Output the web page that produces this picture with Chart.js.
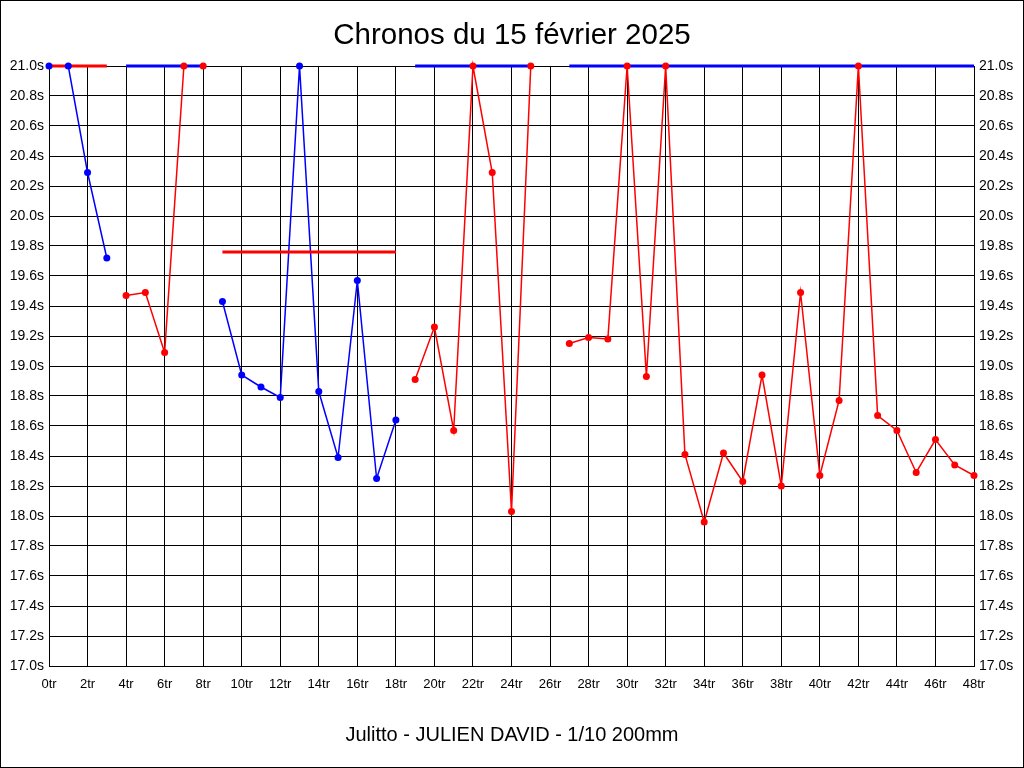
<!DOCTYPE html>
<html>
<head>
<meta charset="utf-8">
<script src="https://cdn.jsdelivr.net/npm/chart.js@4.4.1/dist/chart.umd.min.js"></script>
<style>
  html, body { margin: 0; padding: 0; background: #ffffff; }
  #c { display: block; }
</style>
</head>
<body>
<canvas id="c" width="1024" height="768"></canvas>
<script>
// ---- Data ----
const chartTitle = 'Chronos du 15 février 2025';
const chartSubtitle = 'Julitto - JULIEN DAVID - 1/10 200mm';

// lap times per stint (seconds), first lap of each stint
const stint1Start = 0;
const stint1Times = [21.0, 21.0, 20.29, 19.72];
const stint2Start = 4;
const stint2Times = [19.47, 19.49, 19.09, 21.0, 21.0];
const stint3Start = 9;
const stint3Times = [19.43, 18.94, 18.86, 18.79, 21.0, 18.83, 18.39, 19.57, 18.25, 18.64];
const stint4Start = 19;
const stint4Times = [18.91, 19.26, 18.57, 21.0, 20.29, 18.03, 21.0];
const stint5Start = 27;
const stint5Times = [19.15, 19.19, 19.18, 21.0, 18.93, 21.0, 18.41, 17.96, 18.42, 18.23, 18.94,
                     18.20, 19.49, 18.27, 18.77, 21.0, 18.67, 18.57, 18.29, 18.51, 18.34, 18.27];

// horizontal reference bars
const refFrom = [0, 4, 9, 19, 27];
const refTo   = [3, 8, 18, 25, 48];
const refTime = [21.0, 21.0, 19.76, 21.0, 21.0];

// axis ticks
const xMin = 0, xMax = 48, xStep = 2;
const yMin = 17.0, yMax = 21.0, yStep = 0.2;

// ---- Styles ----
const RED = '#ff0000', BLUE = '#0000ff';
const stintColors = [BLUE, RED, BLUE, RED, RED];
const refColors = [RED, BLUE, RED, BLUE, BLUE];
const FONT = '"Liberation Sans", Arial, Helvetica, sans-serif';

const stints = [
  [stint1Start, stint1Times],
  [stint2Start, stint2Times],
  [stint3Start, stint3Times],
  [stint4Start, stint4Times],
  [stint5Start, stint5Times]
];

function toPoints(start, times) {
  return times.map((t, i) => ({ x: start + i, y: t }));
}

const pointSets = stints.map((s, i) => ({
  data: toPoints(s[0], s[1]),
  showLine: false,
  pointRadius: 3.5,
  pointBorderWidth: 0,
  pointBackgroundColor: stintColors[i],
  pointBorderColor: stintColors[i],
  pointStyle: 'circle',
  clip: false
}));

const refSets = refFrom.map((f, i) => ({
  data: [{ x: f, y: refTime[i] }, { x: refTo[i], y: refTime[i] }],
  borderColor: refColors[i],
  borderWidth: 3,
  pointRadius: 0,
  borderCapStyle: 'butt',
  clip: false
}));

const lineSets = stints.map((s, i) => ({
  data: toPoints(s[0], s[1]),
  borderColor: stintColors[i],
  borderWidth: 1.5,
  pointRadius: 0,
  tension: 0,
  clip: false
}));

// index 0 is drawn on top: points, then bars, then thin lines
const datasets = [...pointSets, ...refSets, ...lineSets];

const framePlugin = {
  id: 'frame',
  afterDraw(chart) {
    const ctx = chart.ctx;
    ctx.save();
    ctx.strokeStyle = '#000';
    ctx.lineWidth = 1;
    ctx.strokeRect(0.5, 0.5, chart.width - 1, chart.height - 1);
    ctx.restore();
  }
};

const yTicks = {
  min: yMin, max: yMax,
  ticks: {
    stepSize: yStep,
    autoSkip: false,
    color: '#000',
    padding: 5,
    font: { family: FONT, size: 14 },
    callback: v => Number(v).toFixed(1) + 's'
  }
};

new Chart(document.getElementById('c'), {
  type: 'line',
  data: { datasets },
  plugins: [framePlugin],
  options: {
    responsive: false,
    animation: false,
    devicePixelRatio: 1,
    layout: { padding: 0 },
    plugins: {
      legend: { display: false },
      tooltip: { enabled: false },
      title: {
        display: true,
        text: chartTitle,
        color: '#000',
        font: { family: FONT, size: 29.5, weight: 'normal' },
        padding: { top: 18.3, bottom: 12.3 }
      },
      subtitle: {
        display: true,
        position: 'bottom',
        text: chartSubtitle,
        color: '#000',
        font: { family: FONT, size: 20, weight: 'normal' },
        padding: { top: 19, bottom: 21 }
      }
    },
    scales: {
      x: {
        type: 'linear',
        min: xMin, max: xMax,
        afterFit(s) { s.height = 38; },
        grid: { color: '#000', lineWidth: 1, drawTicks: false },
        border: { color: '#000', width: 1 },
        ticks: {
          stepSize: xStep,
          autoSkip: false,
          maxRotation: 0,
          color: '#000',
          padding: 11,
          font: { family: FONT, size: 13 },
          callback: v => v + 'tr'
        }
      },
      y: Object.assign({
        type: 'linear',
        position: 'left',
        afterFit(s) { s.width = 49; },
        grid: { color: '#000', lineWidth: 1, drawTicks: false },
        border: { color: '#000', width: 1 }
      }, yTicks),
      y2: Object.assign({
        type: 'linear',
        position: 'right',
        afterFit(s) { s.width = 50; },
        grid: { drawOnChartArea: false, drawTicks: false },
        border: { color: '#000', width: 1 }
      }, yTicks)
    }
  }
});
</script>
</body>
</html>
